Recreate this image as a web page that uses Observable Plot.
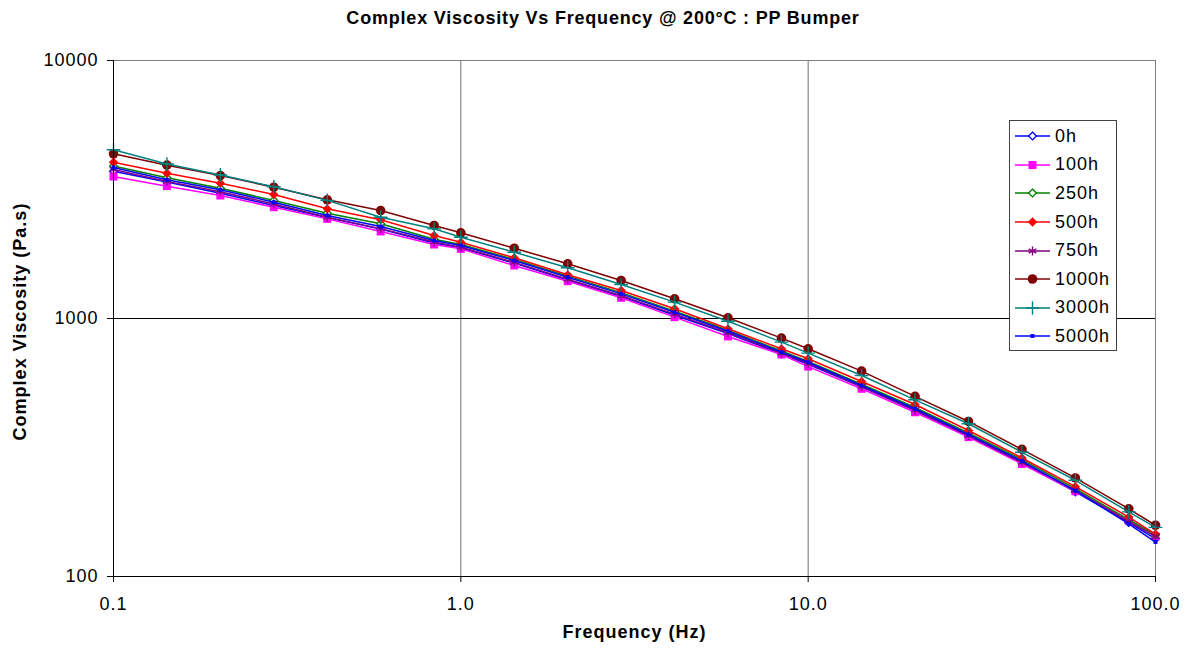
<!DOCTYPE html>
<html><head><meta charset="utf-8">
<script src="https://cdn.jsdelivr.net/npm/d3@7"></script>
<script src="https://cdn.jsdelivr.net/npm/@observablehq/plot@0.6"></script>
<style>
body{margin:0;background:#fff;font-family:"Liberation Sans",Arial,sans-serif;}
#wrap{position:relative;width:1189px;height:654px;overflow:hidden;}
#title{height:36px;line-height:37px;text-align:center;font-weight:bold;font-size:18px;letter-spacing:0.8px;padding-left:17px;box-sizing:border-box;color:#000;}
#legend{position:absolute;left:1009px;top:120px;width:108px;height:231px;border:1px solid #404040;background:#fff;box-sizing:border-box;padding-top:1px;}
.row{height:28.6px;display:flex;align-items:center;font-size:18px;letter-spacing:1px;color:#000;}
.row svg{margin-left:5px;margin-right:5px;}
#chart svg g[aria-label$="tick label"] text{letter-spacing:1px;}
</style></head>
<body>
<div id="wrap">
<div id="title"></div>
<div id="chart"></div>
<div id="legend"></div>
</div>
<script>
const titleText = "Complex Viscosity Vs Frequency @ 200°C : PP Bumper";
const xLabel = "Frequency (Hz)";
const yLabel = "Complex Viscosity (Pa.s)";
const xTicks = [0.1, 1, 10, 100];
const yTicks = [100, 1000, 10000];

const freq = [0.1, 0.1425, 0.2031, 0.2894, 0.4125, 0.5878, 0.8377, 1, 1.425, 2.031, 2.894, 4.125, 5.878, 8.377, 10, 14.25, 20.31, 28.94, 41.25, 58.78, 83.77, 100];

const seriesNames = ["0h", "100h", "250h", "500h", "750h", "1000h", "3000h", "5000h"];
const v0h    = [3720, 3380, 3060, 2740, 2460, 2220, 1960, 1880, 1640, 1410, 1220, 1030, 875, 730, 665, 543, 440, 350, 276, 213, 162, 140];
const v100h  = [3550, 3258, 2997, 2700, 2433, 2174, 1935, 1862, 1605, 1395, 1203, 1012, 852, 725, 651, 534, 433, 347, 273, 214, 165, 143];
const v250h  = [3900, 3510, 3199, 2867, 2560, 2328, 2030, 1935, 1695, 1460, 1260, 1068, 900, 748, 682, 556, 452, 360, 284, 219, 166, 145];
const v500h  = [4033, 3657, 3346, 3025, 2662, 2413, 2098, 1975, 1719, 1477, 1284, 1091, 912, 763, 698, 570, 464, 368, 288, 223, 170, 146];
const v750h  = [3780, 3400, 3100, 2780, 2470, 2230, 1980, 1890, 1650, 1420, 1225, 1040, 880, 735, 670, 545, 442, 352, 277, 216, 163, 143];
const v1000h = [4350, 3930, 3582, 3228, 2884, 2620, 2294, 2148, 1873, 1629, 1404, 1192, 1006, 839, 763, 625, 499, 399, 311, 241, 183, 158];
const v3000h = [4508, 3970, 3600, 3240, 2870, 2470, 2226, 2066, 1807, 1573, 1354, 1157, 976, 810, 734, 601, 484, 391, 303, 236, 178, 155];
const v5000h = [3850, 3450, 3155, 2824, 2507, 2273, 2006, 1918, 1678, 1446, 1246, 1058, 893, 741, 677, 550, 447, 355, 280, 215, 160, 136];
const seriesValues = [v0h, v100h, v250h, v500h, v750h, v1000h, v3000h, v5000h];

const colors  = ["#0000FF", "#FF00FF", "#008000", "#FF0000", "#800080", "#800000", "#008080", "#0000FF"];
const symbols = ["diamond2", "square", "diamond2", "diamond2", "asterisk", "circle", "plus", "square"];
const fills   = ["white", "#FF00FF", "white", "#FF0000", "none", "#800000", "none", "#0000FF"];
const radii   = [3.5, 4.5, 3.5, 4.2, 4.2, 4.8, 4.5, 2.2];

const rows = [];
seriesNames.forEach((s, i) => seriesValues[i].forEach((v, j) => rows.push({s, f: freq[j], v})));

const seriesMarks = [];
seriesNames.forEach((s, i) => {
  const d = rows.filter(r => r.s === s);
  seriesMarks.push(Plot.line(d, {x: "f", y: "v", stroke: colors[i], strokeWidth: 1.5}));
  const stroked = fills[i] === "none" || fills[i] === "white";
  seriesMarks.push(Plot.dot(d, {x: "f", y: "v", symbol: symbols[i], r: radii[i],
    fill: fills[i], stroke: stroked ? colors[i] : "none", strokeWidth: stroked ? 1.4 : 0}));
});

const chart = Plot.plot({
  width: 1189, height: 618,
  marginTop: 24, marginBottom: 78, marginLeft: 113, marginRight: 34,
  x: {type: "log", domain: [0.1, 100]},
  y: {type: "log", domain: [100, 10000]},
  style: {fontFamily: "'Liberation Sans', Arial, sans-serif", fontSize: "18px", color: "#000", background: "white"},
  marks: [
    Plot.ruleX([1, 10], {stroke: "#707070"}),
    Plot.ruleY([1000], {stroke: "#000"}),
    Plot.ruleY([10000], {stroke: "#808080"}),
    Plot.ruleX([100], {stroke: "#808080"}),
    ...seriesMarks,
    Plot.ruleX([0.1], {stroke: "#000"}),
    Plot.ruleY([100], {stroke: "#000"}),
    Plot.axisX({ticks: xTicks, tickFormat: d => d.toFixed(1), tickSize: 6, tickPadding: 15, label: null, fontSize: 18}),
    Plot.axisY({ticks: yTicks, tickFormat: d => String(d), tickSize: 6, tickPadding: 9, label: null, fontSize: 18}),
    Plot.text([xLabel], {text: d => d, frameAnchor: "bottom", dy: 61, fontWeight: "bold", fontSize: 18, textAnchor: "middle", letterSpacing: 1}),
    Plot.text([yLabel], {text: d => d, frameAnchor: "left", textAnchor: "middle", dx: -93, dy: 3, rotate: -90, fontWeight: "bold", fontSize: 18})
  ]
});
chart.querySelectorAll("text").forEach(t => {
  if (t.textContent === xLabel || t.textContent === yLabel) t.style.letterSpacing = "1px";
});
document.getElementById("chart").appendChild(chart);
document.getElementById("title").textContent = titleText;

const symMap = {diamond2: d3.symbolDiamond2, square: d3.symbolSquare, asterisk: d3.symbolAsterisk, circle: d3.symbolCircle, plus: d3.symbolPlus};
const legend = document.getElementById("legend");
seriesNames.forEach((s, i) => {
  const row = document.createElement("div");
  row.className = "row";
  const ns = "http://www.w3.org/2000/svg";
  const svg = document.createElementNS(ns, "svg");
  svg.setAttribute("width", 35); svg.setAttribute("height", 14);
  const line = document.createElementNS(ns, "line");
  line.setAttribute("x1", 0); line.setAttribute("x2", 35); line.setAttribute("y1", 7); line.setAttribute("y2", 7);
  line.setAttribute("stroke", colors[i]); line.setAttribute("stroke-width", 1.5);
  svg.appendChild(line);
  const p = document.createElementNS(ns, "path");
  p.setAttribute("d", d3.symbol(symMap[symbols[i]], Math.PI * radii[i] * radii[i])());
  p.setAttribute("transform", "translate(17.5,7)");
  const stroked = fills[i] === "none" || fills[i] === "white";
  p.setAttribute("fill", fills[i]);
  p.setAttribute("stroke", stroked ? colors[i] : "none");
  p.setAttribute("stroke-width", 1.4);
  svg.appendChild(p);
  row.appendChild(svg);
  const t = document.createElement("span");
  t.textContent = s;
  row.appendChild(t);
  legend.appendChild(row);
});
</script>
</body></html>
